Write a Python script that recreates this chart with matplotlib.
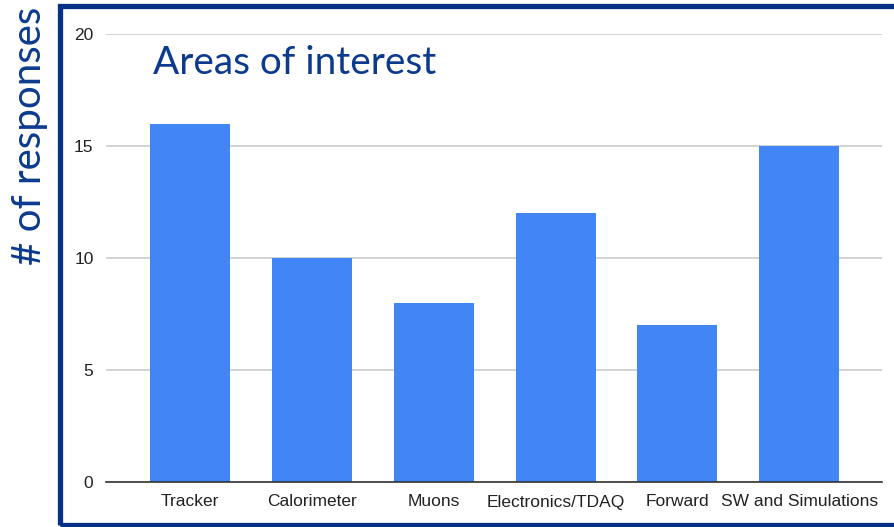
import matplotlib

matplotlib.use("Agg")

import matplotlib.pyplot as plt
from matplotlib.patches import Rectangle

categories = ["Tracker", "Calorimeter", "Muons", "Electronics/TDAQ", "Forward", "SW and Simulations"]
responses = [16, 10, 8, 12, 7, 15]
y_ticks = [0, 5, 10, 15, 20]

W, H = 894, 527
fig = plt.figure(figsize=(W / 100, H / 100), dpi=100)

ax = fig.add_axes([106 / W, 1 - 482 / H, (882 - 106) / W, (482 - 34) / H])
x = list(range(len(categories)))
ax.bar(x, responses, width=0.657, color="#4285f4", zorder=3)
ax.set_xlim(-0.69, len(categories) - 1 + 0.68)
ax.set_ylim(0, 20)
ax.set_yticks(y_ticks)
ax.set_xticks(x)
ax.set_xticklabels(categories)
ax.tick_params(length=0, labelsize=12.5, labelcolor="#222222", pad=9)
for lbl in ax.get_xticklabels() + ax.get_yticklabels():
    lbl.set_family(["Liberation Sans", "DejaVu Sans"])
ax.grid(axis="y", color="#cccccc", linewidth=1.2, zorder=0)
for side in ["top", "right", "left"]:
    ax.spines[side].set_visible(False)
ax.spines["bottom"].set_color("#333333")
ax.spines["bottom"].set_linewidth(1.2)
ax.spines["bottom"].set_zorder(4)

navy = "#0c3a8e"
fig.text(153 / W, 1 - 74 / H, "Areas of interest", color=navy, fontsize=27.9,
         family=["Lato", "DejaVu Sans"], ha="left", va="baseline")
fig.text(30 / W, 1 - 136 / H, "# of responses", color=navy, fontsize=29,
         family=["Lato", "DejaVu Sans"], rotation=90, ha="center", va="center")

# blue frame around the chart
fig.patches.append(Rectangle((59.5 / W, 2.5 / H), 1.0, 1 - 8 / H, transform=fig.transFigure,
                             fill=False, edgecolor="#073189", linewidth=3.8, zorder=5))

fig.savefig("out.png", dpi=100)
